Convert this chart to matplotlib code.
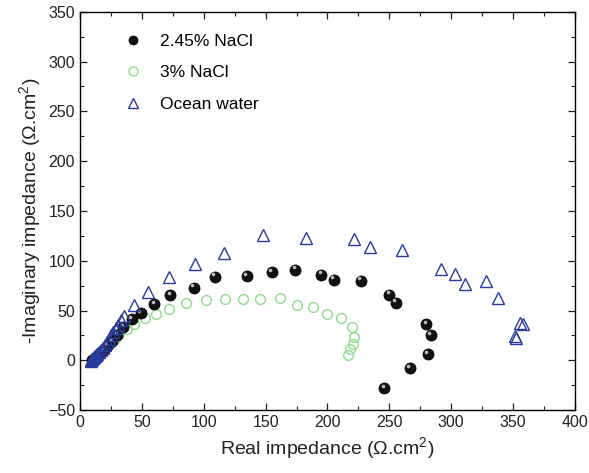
import numpy as np
import matplotlib
matplotlib.use('Agg')
import matplotlib.pyplot as plt
from matplotlib.ticker import MultipleLocator
from matplotlib.transforms import offset_copy

plt.rcParams.update({
    'font.family': ['Liberation Sans', 'DejaVu Sans'],
    'mathtext.fontset': 'custom',
    'mathtext.rm': 'Liberation Sans',
    'mathtext.it': 'Liberation Sans:italic',
    'axes.linewidth': 1.0,
})

# ── 2.45% NaCl ─────────────────────────────────────────
nacl245_x = [10, 12, 14, 16, 19, 22, 26, 30, 35, 41.7, 49, 60, 73, 92, 109,
             135, 155, 174, 195, 205, 227, 250, 255, 280, 283.5, 281, 266.5, 246]
nacl245_y = [0, 2, 4, 7, 10, 14, 19, 25, 33, 41, 47.5, 56.5, 65.5, 73, 84,
             84.5, 88.5, 91, 86, 81, 80, 66, 58, 36.5, 25.5, 6.5, -7.5, -28]

# ── 3% NaCl ────────────────────────────────────────────
nacl3_x = [10, 12, 14, 16, 19, 22, 25, 28, 31.8, 37.7, 43.6, 52.5, 61, 72, 86,
           101.5, 117.5, 131.3, 145.5, 162, 175, 188.5, 200, 211, 219.8, 221.4,
           220.3, 218.2, 216.3]
nacl3_y = [-1, 1.5, 4, 7, 10, 13.5, 17, 21, 26, 31, 36, 42, 47, 52, 57.5,
           60.5, 61.5, 62, 62, 63, 55.5, 53.5, 47, 42.5, 33, 23, 16, 11.5, 5]

# ── Ocean water ────────────────────────────────────────
ocean_x = [8.5, 9, 9.5, 10, 10.5, 11, 12, 13, 14, 15.5, 17, 18.5, 20.2, 22,
           23.7, 25.3, 26.9, 29, 31, 33, 35.6, 43.6, 55.2, 71.9, 93.2, 116.4,
           148.1, 182.6, 221.7, 234.3, 260.5, 291.7, 303, 311, 328, 337.5,
           352, 352.8, 355.5, 357.7]
ocean_y = [-1, 0, 1, 1.5, 2.5, 3, 4, 5, 6.5, 8, 10, 12.5, 15, 18, 21.8, 25,
           28.5, 32, 35.8, 40, 44.2, 55.3, 68.6, 83.7, 97.2, 107.8, 126, 123.3,
           122, 114, 111.2, 92.2, 86.4, 77, 79.7, 63, 24.4, 22.8, 37, 36.5]

BLUE = '#2a3b9e'
GREEN = '#8edc8a'

fig = plt.figure(figsize=(5.89, 4.73), dpi=100)
ax = fig.add_axes([0.136, 0.133, 0.840, 0.842])

ax.plot(ocean_x, ocean_y, ls='none', marker='^', ms=8.5, mfc='none',
        mec=BLUE, mew=1.0, label='Ocean water', zorder=6)
ax.plot(nacl3_x, nacl3_y, ls='none', marker='o', ms=7, mfc='none',
        mec=GREEN, mew=1.0, label='3% NaCl', zorder=2)
ax.plot(nacl245_x, nacl245_y, ls='none', marker='o', ms=8, mfc='#111111',
        mec='#000000', mew=0.5, label='2.45% NaCl', zorder=4)
# highlight on the black spheres
hl = offset_copy(ax.transData, fig=fig, x=-1.2, y=1.6, units='points')
ax.plot(nacl245_x, nacl245_y, ls='none', marker='o', ms=2.6, mfc='#bbbbbb',
        mec='none', transform=hl, zorder=5)

ax.set_xlim(0, 400)
ax.set_ylim(-50, 350)
ax.xaxis.set_major_locator(MultipleLocator(50))
ax.xaxis.set_minor_locator(MultipleLocator(25))
ax.yaxis.set_major_locator(MultipleLocator(50))
ax.yaxis.set_minor_locator(MultipleLocator(25))
ax.tick_params(which='both', direction='in', top=True, right=True,
               labelsize=11.5, colors='#222222')
ax.tick_params(which='major', length=5, width=0.9)
ax.tick_params(which='minor', length=3, width=0.8)

ax.set_xlabel(r'Real impedance ($\Omega$.cm$^2$)', fontsize=14, color='#222222')
ax.set_ylabel(r'-Imaginary impedance ($\Omega$.cm$^2$)', fontsize=14,
              color='#222222', labelpad=4)

handles, labels = ax.get_legend_handles_labels()
order = [2, 1, 0]
leg = ax.legend([handles[i] for i in order], [labels[i] for i in order],
                loc='upper left', bbox_to_anchor=(0.05, 0.985), frameon=False,
                fontsize=12.5, labelspacing=0.95, handletextpad=0.8,
                handlelength=1.5)
for h in leg.legend_handles:
    h.set_markersize(6.5)

fig.savefig('out.png', dpi=100)
